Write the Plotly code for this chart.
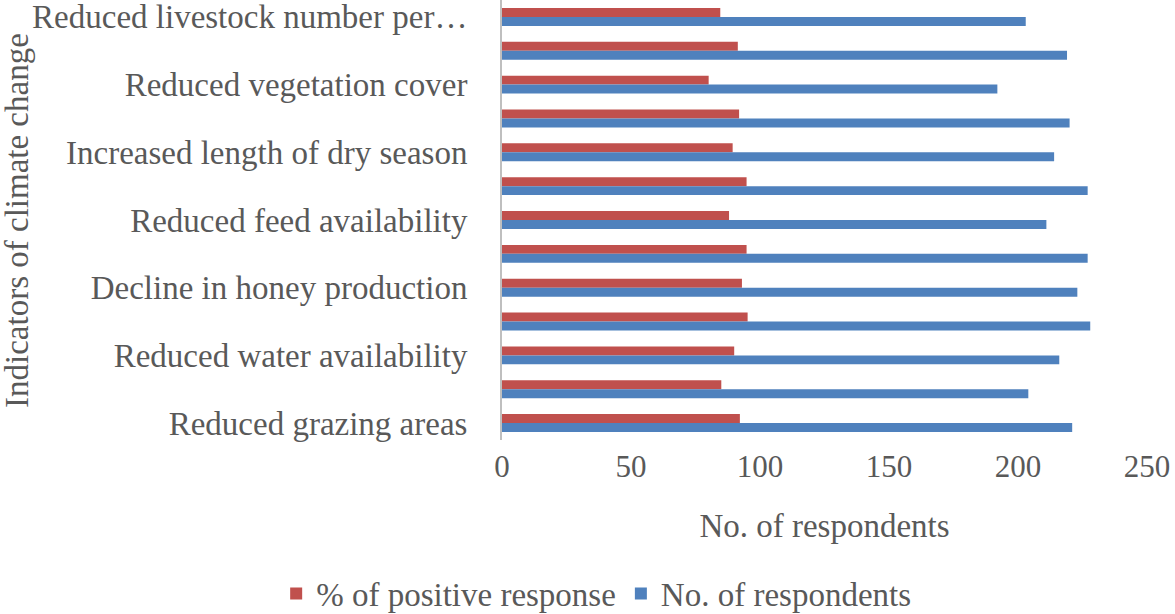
import plotly.graph_objects as go

# Categories listed top to bottom (every other label is hidden in the original)
categories = [
    "Reduced livestock number per…",
    "Unlabelled indicator 6",
    "Reduced vegetation cover",
    "Unlabelled indicator 5",
    "Increased length of dry season",
    "Unlabelled indicator 4",
    "Reduced feed availability",
    "Unlabelled indicator 3",
    "Decline in honey production",
    "Unlabelled indicator 2",
    "Reduced water availability",
    "Unlabelled indicator 1",
    "Reduced grazing areas",
]
shown_labels = [c for i, c in enumerate(categories) if i % 2 == 0]

pct_positive = [84.6, 91.4, 80.1, 91.9, 89.4, 94.8, 88.0, 94.8, 93.0, 95.2, 90.0, 85.0, 92.2]
n_respondents = [203, 219, 192, 220, 214, 227, 211, 227, 223, 228, 216, 204, 221]

x_ticks = [0, 50, 100, 150, 200, 250]

RED = "#C0504D"
BLUE = "#4F81BD"
TXT = "#595959"
FONT = "Liberation Serif"

fig = go.Figure()
fig.add_trace(go.Bar(
    y=categories, x=pct_positive, orientation="h",
    name="% of positive response", marker=dict(color=RED, line=dict(width=0)),
))
fig.add_trace(go.Bar(
    y=categories, x=n_respondents, orientation="h",
    name="No. of respondents", marker=dict(color=BLUE, line=dict(width=0)),
))

fig.update_layout(
    width=1175, height=614,
    margin=dict(l=502, r=28, t=0, b=174, autoexpand=False),
    paper_bgcolor="white", plot_bgcolor="white",
    barmode="group", bargap=0.47, bargroupgap=0,
    font=dict(family=FONT, color=TXT, size=32),
    showlegend=True,
    legend=dict(
        orientation="h", x=0.146, xanchor="center", y=-0.349, yanchor="middle",
        font=dict(family=FONT, size=33, color=TXT), bgcolor="rgba(0,0,0,0)",
        itemwidth=30,
    ),
    xaxis=dict(
        range=[0, 250], tickvals=x_ticks, showgrid=False, zeroline=False,
        showline=False, ticks="", ticklabelstandoff=5, automargin=False,
        tickfont=dict(family=FONT, size=31, color=TXT),
        title=dict(text="No. of respondents", font=dict(family=FONT, size=33, color=TXT), standoff=30),
    ),
    yaxis=dict(
        autorange="reversed", tickmode="array", tickvals=shown_labels, ticktext=shown_labels,
        showgrid=False, zeroline=False, showline=True, linecolor="#BFBFBF", linewidth=2,
        ticks="", ticklabelstandoff=26, automargin=False,
        tickfont=dict(family=FONT, size=33, color=TXT),
    ),
    annotations=[dict(
        text="Indicators of climate change", textangle=-90,
        xref="paper", yref="paper", x=-0.752, y=0.50, xanchor="center", yanchor="middle",
        showarrow=False, font=dict(family=FONT, size=33, color=TXT),
    )],
)

fig.write_html(
    "out.html",
    config={"displayModeBar": False},
    post_script="document.body.style.margin='0';",
)
